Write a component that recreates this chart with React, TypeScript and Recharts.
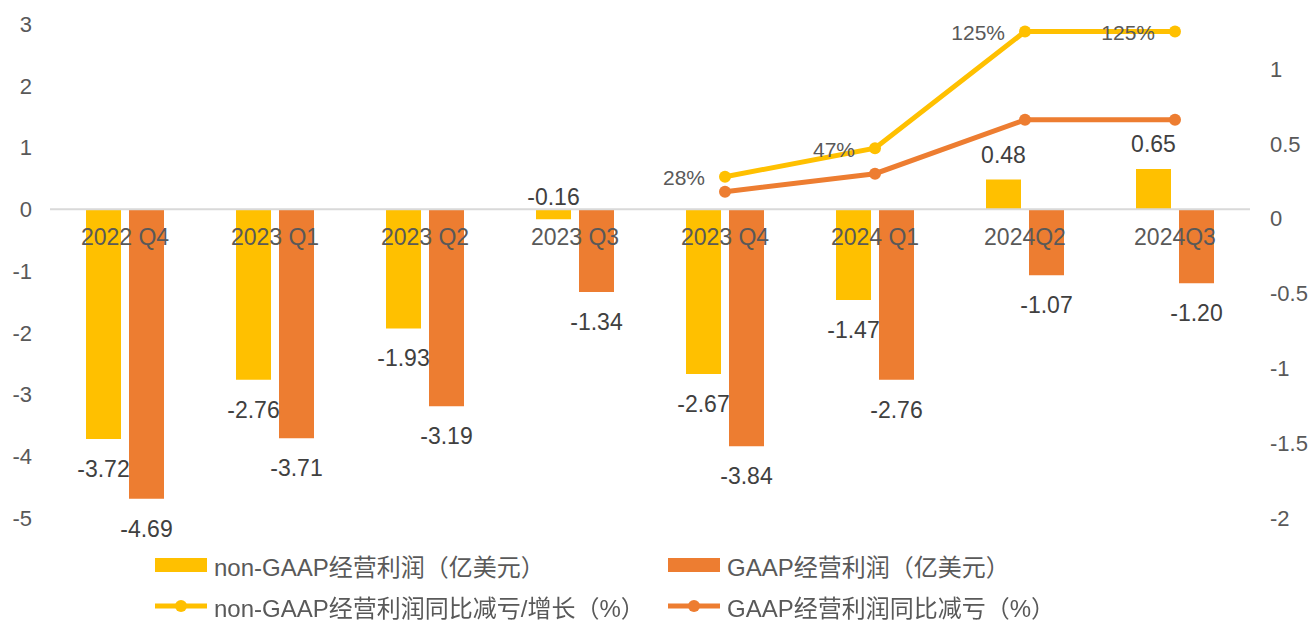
import React from "react";
import {
  ComposedChart,
  Bar,
  Line,
  XAxis,
  YAxis,
  ReferenceLine,
  LabelList,
  Legend,
} from "recharts";

const FONT = "'Liberation Sans', 'Noto Sans CJK SC', sans-serif";
const YELLOW = "#FFC000";
const ORANGE = "#ED7D31";

const categories = ["2022 Q4", "2023 Q1", "2023 Q2", "2023 Q3", "2023 Q4", "2024 Q1", "2024Q2", "2024Q3"];
const nonGaapProfit = [-3.72, -2.76, -1.93, -0.16, -2.67, -1.47, 0.48, 0.65];
const gaapProfit = [-4.69, -3.71, -3.19, -1.34, -3.84, -2.76, -1.07, -1.2];
const nonGaapGrowth = [null, null, null, null, 0.28, 0.47, 1.25, 1.25];
const gaapGrowth = [null, null, null, null, 0.18, 0.3, 0.66, 0.66];
const leftTicks = [-5, -4, -3, -2, -1, 0, 1, 2, 3];
const rightTicks = [-2, -1.5, -1, -0.5, 0, 0.5, 1];

const legendItems = [
  { name: "non-GAAP经营利润（亿美元）", color: YELLOW, kind: "bar" },
  { name: "GAAP经营利润（亿美元）", color: ORANGE, kind: "bar" },
  { name: "non-GAAP经营利润同比减亏/增长（%）", color: YELLOW, kind: "line" },
  { name: "GAAP经营利润同比减亏（%）", color: ORANGE, kind: "line" },
];

const data = categories.map((name, i) => ({
  name,
  nonGaap: nonGaapProfit[i],
  gaap: gaapProfit[i],
  nonGaapYoy: nonGaapGrowth[i],
  gaapYoy: gaapGrowth[i],
  base: 0, // 分类标签挂在零线上
}));

// 柱子数值标签：负值放在柱端下方，很小的负值放到零线上方
const BarValueLabel = (props: any) => {
  const vb = props.viewBox ?? props;
  const { x, y, width, height } = vb;
  const value = Number(props.value);
  const top = Math.min(y, y + height);
  const bottom = Math.max(y, y + height);
  let ty = bottom + 30;
  if (value >= 0) ty = top - 25;
  else if (value > -0.5) ty = top - 12;
  return (
    <text
      x={x + width / 2}
      y={ty}
      textAnchor="middle"
      dominantBaseline="central"
      fontFamily={FONT}
      fontSize={23}
      fill="#404040"
    >
      {value.toFixed(2)}
    </text>
  );
};

const PercentLabel = (props: any) => {
  const { x, y, value } = props;
  if (value == null) return null;
  return (
    <text
      x={x - 20}
      y={y + 1}
      textAnchor="end"
      dominantBaseline="central"
      fontFamily={FONT}
      fontSize={21}
      fill="#595959"
    >
      {`${Math.round(value * 100)}%`}
    </text>
  );
};

const CategoryLabel = (props: any) => {
  const { x, y, value } = props;
  return (
    <text
      x={x}
      y={y + 28}
      textAnchor="middle"
      dominantBaseline="central"
      fontFamily={FONT}
      fontSize={23}
      fill="#595959"
    >
      {value}
    </text>
  );
};

const LegendContent = () => (
  <div style={{ position: "relative", width: 1314, height: 103, fontFamily: FONT }}>
    {legendItems.map((item, i) => {
      const left = i % 2 === 0 ? 155 : 668;
      const top = i < 2 ? 47 : 88;
      return (
        <div
          key={item.name}
          style={{
            position: "absolute",
            left,
            top: top - 16,
            height: 32,
            display: "flex",
            alignItems: "center",
            whiteSpace: "nowrap",
          }}
        >
          <svg width={52} height={16} style={{ marginRight: 7 }}>
            {item.kind === "bar" ? (
              <rect x={0} y={1} width={52} height={14} fill={item.color} />
            ) : (
              <g>
                <line x1={0} y1={8} x2={52} y2={8} stroke={item.color} strokeWidth={5} />
                <circle cx={26} cy={8} r={6} fill={item.color} />
              </g>
            )}
          </svg>
          <span style={{ fontSize: 24, color: "#595959" }}>{item.name}</span>
        </div>
      );
    })}
  </div>
);

const App: React.FC = () => {
  return (
    <div style={{ position: "fixed", left: 0, top: 0, width: 1314, height: 621, background: "#fff" }}>
      <ComposedChart
        width={1314}
        height={621}
        data={data}
        margin={{ top: 24, right: 0, left: 0, bottom: 0 }}
        barGap={8}
      >
        <XAxis dataKey="name" hide />
        <YAxis
          yAxisId="left"
          width={50}
          domain={[-5, 3]}
          ticks={leftTicks}
          axisLine={false}
          tickLine={false}
          tickSize={0}
          tickMargin={18}
          tick={{ fill: "#595959", fontSize: 22, fontFamily: FONT }}
        />
        <YAxis
          yAxisId="right"
          orientation="right"
          width={64}
          domain={[-2, 1.3]}
          ticks={rightTicks}
          allowDataOverflow
          axisLine={false}
          tickLine={false}
          tickSize={0}
          tickMargin={20}
          tick={{ fill: "#595959", fontSize: 22, fontFamily: FONT }}
        />
        <ReferenceLine yAxisId="left" y={0} stroke="#D9D9D9" strokeWidth={2} />
        <Bar yAxisId="left" dataKey="nonGaap" fill={YELLOW} barSize={35} isAnimationActive={false}>
          <LabelList dataKey="nonGaap" content={BarValueLabel} />
        </Bar>
        <Bar yAxisId="left" dataKey="gaap" fill={ORANGE} barSize={35} isAnimationActive={false}>
          <LabelList dataKey="gaap" content={BarValueLabel} />
        </Bar>
        <Line
          yAxisId="left"
          dataKey="base"
          stroke="none"
          dot={false}
          activeDot={false}
          isAnimationActive={false}
        >
          <LabelList dataKey="name" content={CategoryLabel} />
        </Line>
        <Line
          yAxisId="right"
          dataKey="gaapYoy"
          stroke={ORANGE}
          strokeWidth={5}
          dot={{ r: 6, fill: ORANGE, stroke: ORANGE, strokeWidth: 0 }}
          activeDot={false}
          isAnimationActive={false}
        />
        <Line
          yAxisId="right"
          dataKey="nonGaapYoy"
          stroke={YELLOW}
          strokeWidth={5}
          dot={{ r: 6, fill: YELLOW, stroke: YELLOW, strokeWidth: 0 }}
          activeDot={false}
          isAnimationActive={false}
        >
          <LabelList dataKey="nonGaapYoy" content={PercentLabel} />
        </Line>
        <Legend
          verticalAlign="bottom"
          content={LegendContent}
          wrapperStyle={{ left: 0, width: 1314, height: 103 }}
        />
      </ComposedChart>
    </div>
  );
};

export default App;
